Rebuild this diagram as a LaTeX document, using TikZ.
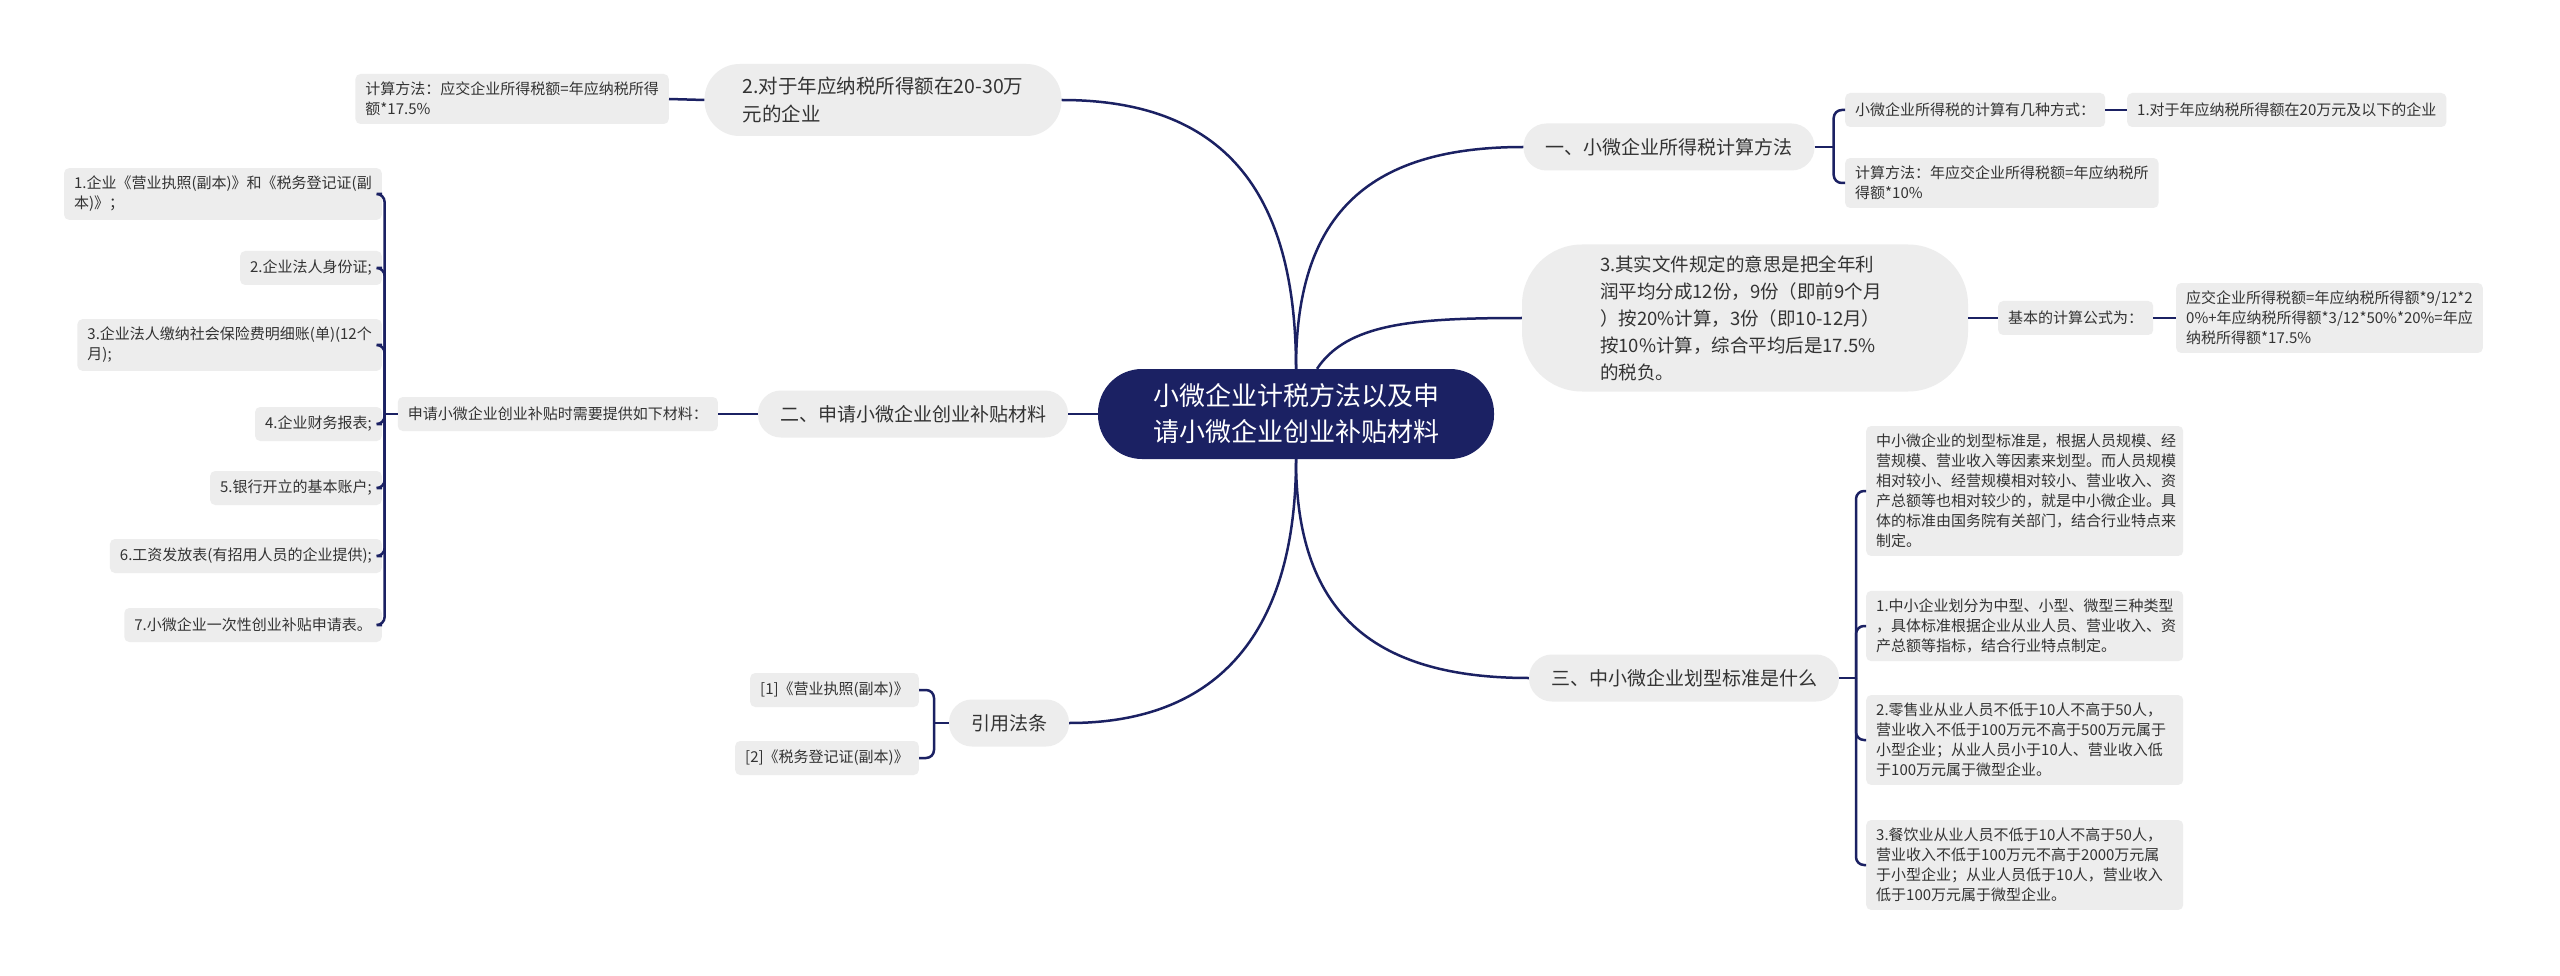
\documentclass[tikz,border=0pt]{standalone}
\usepackage{fontspec}
\setmainfont{Noto Sans CJK SC}
\definecolor{navy}{HTML}{1B2163}
\definecolor{boxgray}{HTML}{EDEDED}
\definecolor{ink}{HTML}{333333}
\begin{document}
\begin{tikzpicture}[x=1pt,y=-1pt,
    root/.style={fill=navy,text=white,rounded corners=44pt,minimum height=90pt,inner xsep=55pt,align=center,font=\fontsize{26}{36}\selectfont},
    branch/.style={fill=boxgray,text=ink,rounded corners=23pt,minimum height=47pt,inner xsep=22pt,font=\fontsize{19}{27}\selectfont},
    note/.style={fill=boxgray,text=ink,rounded corners=5pt,inner xsep=10pt,inner ysep=8pt,minimum height=34pt,align=left,font=\fontsize{15}{20}\selectfont},
    link/.style={draw=navy,line width=2.5pt},
    fork/.style={link,rounded corners=8pt},]
        \fill[white] (0,0) rectangle (2560,976);
        \useasboundingbox (0,0) rectangle (2560,976);
        \node[root] (root) at (1296,414) {小微企业计税方法以及申\\请小微企业创业补贴材料};
        \node[branch] (calc) at (1669,147) {一、小微企业所得税计算方法};
        \node[note,anchor=west] (ways) at (1845,110) {小微企业所得税的计算有几种方式：};
        \node[note,anchor=west] (small) at (2127,110) {1.对于年应纳税所得额在20万元及以下的企业};
        \node[note,anchor=west] (rate) at (1845,183) {计算方法：年应交企业所得税额=年应纳税所\\得额*10\%};
        \node[branch,align=left,rounded corners=60pt,minimum height=147pt,text width=290pt,inner xsep=78pt,font=\fontsize{18.5}{27}\selectfont] (avg) at (1745,318) {3.其实文件规定的意思是把全年利\\润平均分成12份，9份（即前9个月\\）按20\%计算，3份（即10-12月）\\按10\%计算，综合平均后是17.5\%\\的税负。};
        \node[note,anchor=west] (basic) at (1998,318) {基本的计算公式为：};
        \node[note,anchor=west] (formula) at (2176,318) {应交企业所得税额=年应纳税所得额*9/12*2\\0\%+年应纳税所得额*3/12*50\%*20\%=年应\\纳税所得额*17.5\%};
        \node[branch] (scale) at (1684,678) {三、中小微企业划型标准是什么};
        \node[note,anchor=west,text width=297pt] (std) at (1866,491) {中小微企业的划型标准是，根据人员规模、经\\营规模、营业收入等因素来划型。而人员规模\\相对较小、经营规模相对较小、营业收入、资\\产总额等也相对较少的，就是中小微企业。具\\体的标准由国务院有关部门，结合行业特点来\\制定。};
        \node[note,anchor=west,text width=297pt] (kind) at (1866,626) {1.中小企业划分为中型、小型、微型三种类型\\，具体标准根据企业从业人员、营业收入、资\\产总额等指标，结合行业特点制定。};
        \node[note,anchor=west,text width=297pt] (retail) at (1866,740) {2.零售业从业人员不低于10人不高于50人，\\营业收入不低于100万元不高于500万元属于\\小型企业；从业人员小于10人、营业收入低\\于100万元属于微型企业。};
        \node[note,anchor=west,text width=297pt] (food) at (1866,865) {3.餐饮业从业人员不低于10人不高于50人，\\营业收入不低于100万元不高于2000万元属\\于小型企业；从业人员低于10人，营业收入\\低于100万元属于微型企业。};
        \node[branch,align=left,rounded corners=35pt,minimum height=72pt,inner xsep=38pt,font=\fontsize{19.5}{28}\selectfont] (mid) at (883,100) {2.对于年应纳税所得额在20-30万\\元的企业};
        \node[note,anchor=east] (rate2) at (669,99) {计算方法：应交企业所得税额=年应纳税所得\\额*17.5\%};
        \node[branch] (apply) at (913,414) {二、申请小微企业创业补贴材料};
        \node[note,anchor=east] (need) at (718,414) {申请小微企业创业补贴时需要提供如下材料：};
        \node[note,anchor=east] (m1) at (382,194) {1.企业《营业执照(副本)》和《税务登记证(副\\本)》；};
        \node[note,anchor=east] (m2) at (382,268) {2.企业法人身份证;};
        \node[note,anchor=east] (m3) at (382,345) {3.企业法人缴纳社会保险费明细账(单)(12个\\月);};
        \node[note,anchor=east] (m4) at (382,424) {4.企业财务报表;};
        \node[note,anchor=east] (m5) at (382,488) {5.银行开立的基本账户;};
        \node[note,anchor=east] (m6) at (382,556) {6.工资发放表(有招用人员的企业提供);};
        \node[note,anchor=east] (m7) at (382,625) {7.小微企业一次性创业补贴申请表。};
        \node[branch] (law) at (1009,723) {引用法条};
        \node[note,anchor=east] (law1) at (919,690) {[1]《营业执照(副本)》};
        \node[note,anchor=east] (law2) at (919,758) {[2]《税务登记证(副本)》};
        \coordinate (calcfork) at ([xshift=19pt]calc.east);
        \coordinate (scalefork) at (1856,678);
        \coordinate (needfork) at ([xshift=-13pt]need.west);
        \coordinate (lawfork) at (934,723);
        \draw[link] (root.north) .. controls +(0,-150) and +(-160,0) .. (calc.west);
        \draw[link] ([xshift=21pt]root.north) .. controls +(30,-45) and +(-110,0) .. (avg.west);
        \draw[link] (root.north) .. controls +(0,-180) and +(160,0) .. (mid.east);
        \draw[link] (root.west) -- (apply.east);
        \draw[link] (root.south) .. controls +(0,150) and +(-160,0) .. (scale.west);
        \draw[link] (root.south) .. controls +(0,160) and +(160,0) .. (law.east);
        \draw[link] (calc.east) -- (calcfork);
        \draw[fork] (calcfork) |- (ways.west);
        \draw[fork] (calcfork) |- (rate.west);
        \draw[link] (ways.east) -- (small.west);
        \draw[link] (avg.east) -- (basic.west);
        \draw[link] (basic.east) -- (formula.west);
        \draw[link] (scale.east) -- (scalefork);
        \draw[fork] (scalefork) |- (std.west);
        \draw[fork] (scalefork) |- (kind.west);
        \draw[fork] (scalefork) |- (retail.west);
        \draw[fork] (scalefork) |- (food.west);
        \draw[link] (mid.west) -- (rate2.east);
        \draw[link] (apply.west) -- (need.east);
        \draw[link] (need.west) -- (needfork);
        \draw[fork] (needfork) |- (m1.east);
        \draw[fork] (needfork) |- (m2.east);
        \draw[fork] (needfork) |- (m3.east);
        \draw[fork] (needfork) |- (m4.east);
        \draw[fork] (needfork) |- (m5.east);
        \draw[fork] (needfork) |- (m6.east);
        \draw[fork] (needfork) |- (m7.east);
        \draw[link] (law.west) -- (lawfork);
        \draw[fork] (lawfork) |- (law1.east);
        \draw[fork] (lawfork) |- (law2.east);
\end{tikzpicture}
\end{document}
